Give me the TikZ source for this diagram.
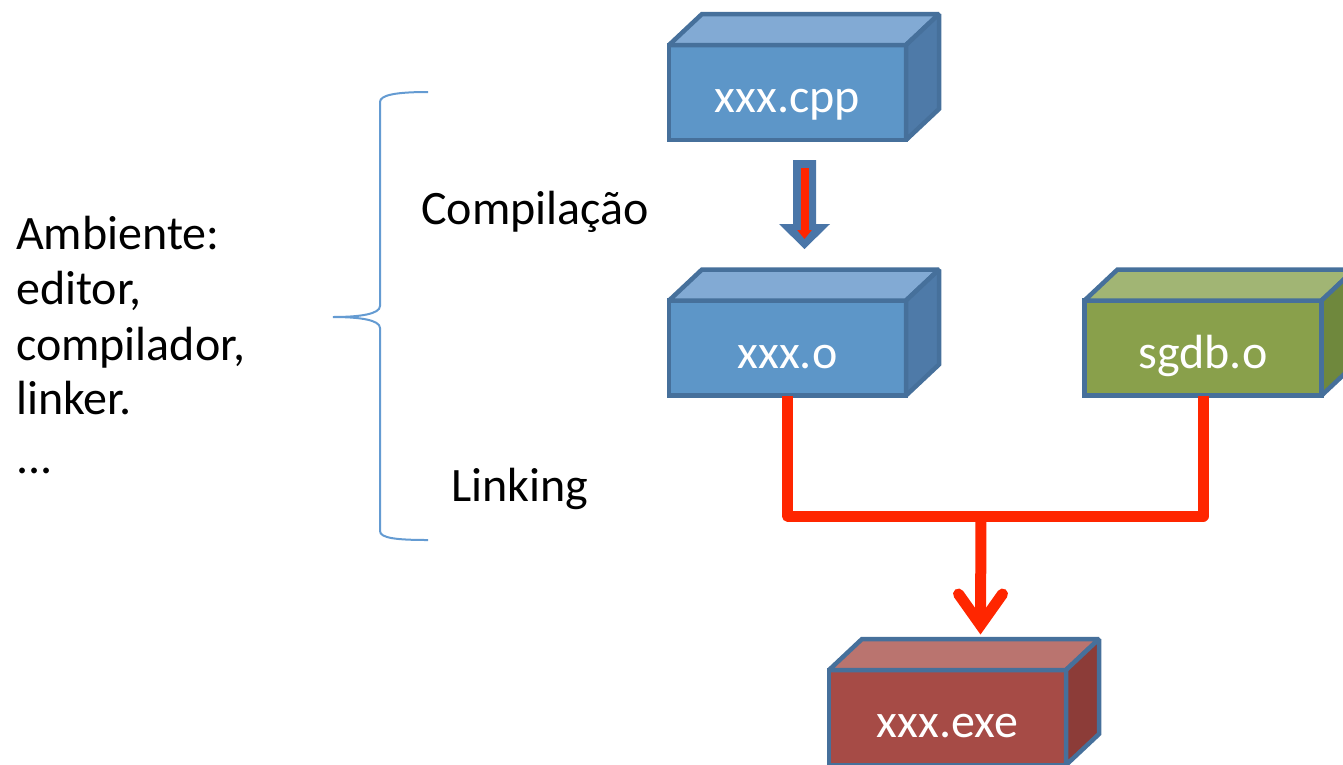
\documentclass[tikz,border=0pt]{standalone}
\usepackage{fontspec}
\setmainfont{Carlito}
\usetikzlibrary{calc,arrows.meta}

\definecolor{boxline}{RGB}{70,112,155}
\definecolor{bluefront}{RGB}{93,150,200}
\definecolor{bluetop}{RGB}{130,170,212}
\definecolor{blueside}{RGB}{78,122,168}
\definecolor{greenfront}{RGB}{137,160,75}
\definecolor{greentop}{RGB}{161,181,116}
\definecolor{greenside}{RGB}{111,136,61}
\definecolor{redfront}{RGB}{166,75,70}
\definecolor{redtop}{RGB}{186,116,111}
\definecolor{redside}{RGB}{140,60,56}
\definecolor{flowred}{RGB}{255,38,0}
\definecolor{bracecol}{RGB}{100,155,210}
\definecolor{blockarrow}{RGB}{74,118,168}

% front face of a file block, with its label in white
\tikzset{
  face/.style={draw=boxline, line width=4.5pt, line join=miter, outer sep=0pt,
    inner sep=0pt, minimum width=237pt, minimum height=95pt,
    text height=40pt, text depth=0pt, text=white, font=\fontsize{48}{58}\selectfont},
  side/.style={draw=boxline, line width=4.5pt, line join=miter, miter limit=2},
  label/.style={anchor=base west, inner sep=0pt, font=\fontsize{48}{58}\selectfont},
  flow/.style={draw=flowred, line width=11pt, line join=round},
}

% top and right faces of a block whose front face is node #1
\newcommand\blocksides[3]{%
  \filldraw[side, fill=#2] (#1.north west) -- ($(#1.north west)+(33,-31)$)
    -- ($(#1.north east)+(33,-31)$) -- (#1.north east) -- cycle;
  \filldraw[side, fill=#3] (#1.north east) -- ($(#1.north east)+(33,-31)$)
    -- ($(#1.south east)+(33,-31)$) -- (#1.south east) -- cycle;}

\begin{document}
\begin{tikzpicture}[x=1pt, y=-1pt]
\useasboundingbox (0,0) rectangle (1343,764);
\clip (0,0) rectangle (1343,764);

% left description
\node[label] (amb) at (16,249) {Ambiente:};
\node[label] (ed)  at (16,304) {editor,};
\node[label] (comp) at (16,360) {compilador,};
\node[label] (lnk) at (16,414) {linker.};
\node[label] (dots) at (16,473) {...};

% brace
\draw[bracecol, line width=2pt]
  (428,92) .. controls (396,92) and (380,95) .. (380,102) -- (380,306)
  .. controls (380,314) and (360,317) .. (333,317)
  .. controls (360,317) and (380,320) .. (380,328) -- (380,531)
  .. controls (380,538) and (396,540) .. (428,540);

% stage labels
\node[label] (compl) at (421,224) {Compilação};
\node[label] (link) at (451,501) {Linking};

% file blocks
\node[face, fill=bluefront] (cpp) at (787.5,92.5) {xxx.cpp};
\blocksides{cpp}{bluetop}{blueside}
\node[face, fill=bluefront] (xo) at (787.5,348) {xxx.o};
\blocksides{xo}{bluetop}{blueside}
\node[face, fill=greenfront] (sg) at (1203,348) {sgdb.o};
\blocksides{sg}{greentop}{greenside}
\node[face, fill=redfront] (ex) at (947.5,717.5) {xxx.exe};
\blocksides{ex}{redtop}{redside}

% compilation arrow
\coordinate (ca) at ($(cpp.south)+(17,20)$);
\fill[blockarrow] ($(ca)+(-11.5,0)$) -- ($(ca)+(11.5,0)$) -- ($(ca)+(11.5,64)$)
  -- ($(ca)+(25.5,64)$) -- ($(ca)+(0,89)$) -- ($(ca)+(-25.5,64)$)
  -- ($(ca)+(-11.5,64)$) -- cycle;
\draw[flowred, line width=8pt, -{Triangle[length=9pt,width=14pt]}]
  ($(ca)+(0,8)$) -- ($(ca)+(0,79)$);

% linking connectors
\coordinate (join) at (981,516);
\coordinate (tip) at ($(ex.north)+(33,-45)$);
\draw[flow] (xo.south) -- (xo.south |- join) -- (sg.south |- join) -- (sg.south);
\draw[flow] (join) -- (tip);
\draw[flow, line cap=round, line join=miter]
  ($(tip)+(-22,-31)$) -- (tip) -- ($(tip)+(22,-31)$);
\end{tikzpicture}
\end{document}
